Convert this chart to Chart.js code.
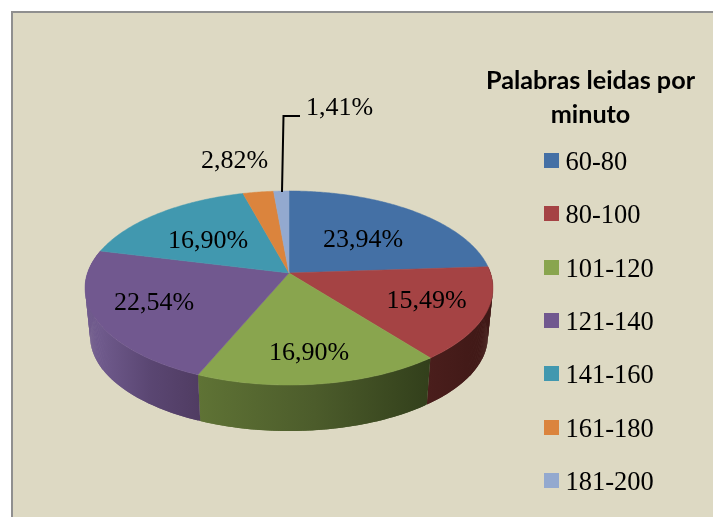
<!DOCTYPE html>
<html>
<head>
<meta charset="utf-8">
<title>Palabras leidas por minuto</title>
<script src="https://cdn.jsdelivr.net/npm/chart.js@4/dist/chart.umd.min.js"></script>
<style>
    html, body { margin: 0; padding: 0; background: #fff; overflow: hidden; }
    #frame { position: absolute; left: 11px; top: 11px; width: 700px; height: 504px; background: #DDD9C3; border-left: 2px solid #8f8f8f; border-top: 2px solid #8f8f8f; }
    #frame2 { position: absolute; left: 13px; top: 13px; width: 700px; height: 504px; background: #DDD9C3; }
    canvas { position: absolute; left: 0; top: 0; }
</style>
</head>
<body>
<div id="frame"></div>
<div id="frame2"></div>
<canvas id="chart" width="713" height="517"></canvas>
<script>
const categories = ['60-80', '80-100', '101-120', '121-140', '141-160', '161-180', '181-200'];
const percentages = [23.94, 15.49, 16.90, 22.54, 16.90, 2.82, 1.41];
const colors = ['#4470A5', '#A54344', '#89A54E', '#71588F', '#4198AF', '#DB843D', '#93A9CF'];
const titleLines = ['Palabras leidas por', 'minuto'];

// Side wall shades, left to right across each slice
const sideShades = {
    1: ['#4a1e1c', '#3f1816'],
    2: ['#5f7335', '#4c5c2b', '#323f1b'],
    3: ['#6f5a8c', '#5a4672', '#503c62']
};

// Where each percentage label sits (centre x, text baseline)
const labelSpots = [[363, 246.5], [426.5, 307.5], [309, 360], [154, 310], [208, 248], [234.5, 168], [339.5, 115]];

// Perspective of the pie: apex on screen, then the squash of the disc
const apex = { x: 289, y: 273 };
const persp = { a: 201.5, b: 94.7, p: -0.1546 };
const wall = { scale: 0.975, drop: 48.8 };

function project(angle, lower) {
    const u = Math.cos(angle);
    const v = Math.sin(angle);
    const w = 1 + persp.p * v;
    let x = persp.a * u / w;
    let y = persp.b * v / w;
    if (lower) {
        x *= wall.scale;
        y = y * wall.scale + wall.drop;
    }
    return { x: apex.x + x, y: apex.y + y };
}

function traceRim(ctx, from, to, lower) {
    const steps = Math.max(2, Math.ceil(Math.abs(to - from) / 0.01));
    for (let i = 0; i <= steps; i++) {
        const p = project(from + (to - from) * i / steps, lower);
        ctx.lineTo(p.x, p.y);
    }
}

const perspectivePie = {
    id: 'perspectivePie',
    beforeDatasetDraw(chart) {
        const ctx = chart.ctx;
        const arcs = chart.getDatasetMeta(0).data;

        // Side wall first, the top covers whatever is behind it
        arcs.forEach((arc, i) => {
            const shades = sideShades[i];
            if (!shades) return;
            const a1 = arc.startAngle;
            const a2 = arc.endAngle;
            const pts = [project(a1, false), project(a2, false), project(a1, true), project(a2, true)];
            const xs = pts.map(p => p.x);
            const grad = ctx.createLinearGradient(Math.min(...xs), 0, Math.max(...xs), 0);
            shades.forEach((c, k) => grad.addColorStop(k / (shades.length - 1), c));
            ctx.fillStyle = grad;
            // Small overlapping quads so the silhouette follows the tangent between the rims
            const steps = Math.ceil((a2 - a1) / 0.01);
            for (let s = 0; s < steps; s++) {
                const from = a1 + (a2 - a1) * s / steps;
                const to = Math.min(a2, from + 2 * (a2 - a1) / steps);
                const p1 = project(from, false);
                const p2 = project(to, false);
                const p3 = project(to, true);
                const p4 = project(from, true);
                ctx.beginPath();
                ctx.moveTo(p1.x, p1.y);
                ctx.lineTo(p2.x, p2.y);
                ctx.lineTo(p3.x, p3.y);
                ctx.lineTo(p4.x, p4.y);
                ctx.closePath();
                ctx.fill();
            }
        });

        // Top of the disc
        arcs.forEach((arc) => {
            ctx.beginPath();
            ctx.moveTo(apex.x, apex.y);
            traceRim(ctx, arc.startAngle, arc.endAngle, false);
            ctx.closePath();
            ctx.fillStyle = arc.options.backgroundColor;
            ctx.strokeStyle = arc.options.backgroundColor;
            ctx.lineWidth = 0.5;
            ctx.fill();
            ctx.stroke();
        });
        return false;
    },
    afterDraw(chart) {
        const ctx = chart.ctx;
        ctx.save();

        // Leader line of the smallest slice
        ctx.beginPath();
        ctx.moveTo(282, 192);
        ctx.lineTo(283.5, 116);
        ctx.lineTo(300, 116);
        ctx.strokeStyle = '#000';
        ctx.lineWidth = 2;
        ctx.stroke();

        // Percentage labels
        ctx.fillStyle = '#000';
        ctx.font = '26px "Liberation Serif"';
        ctx.textAlign = 'center';
        ctx.textBaseline = 'alphabetic';
        percentages.forEach((val, i) => {
            ctx.fillText(val.toFixed(2).replace('.', ',') + '%', labelSpots[i][0], labelSpots[i][1]);
        });

        // Legend title
        ctx.font = 'bold 25.2px Lato';
        titleLines.forEach((line, i) => ctx.fillText(line, 590.5, 89 + i * 34));

        // Legend rows
        ctx.textAlign = 'left';
        ctx.font = '26.5px "Liberation Serif"';
        categories.forEach((name, i) => {
            const y = 153 + i * 53.33;
            ctx.fillStyle = colors[i];
            ctx.fillRect(544, Math.round(y), 15, 15);
            ctx.fillStyle = '#000';
            ctx.fillText(name, 565.5, y + 17);
        });
        ctx.restore();
    }
};

new Chart(document.getElementById('chart').getContext('2d'), {
    type: 'pie',
    data: {
        labels: categories,
        datasets: [{
            data: percentages,
            backgroundColor: colors,
            borderWidth: 0
        }]
    },
    options: {
        responsive: false,
        animation: false,
        plugins: {
            legend: { display: false },
            tooltip: { enabled: false }
        }
    },
    plugins: [perspectivePie]
});
</script>
</body>
</html>
